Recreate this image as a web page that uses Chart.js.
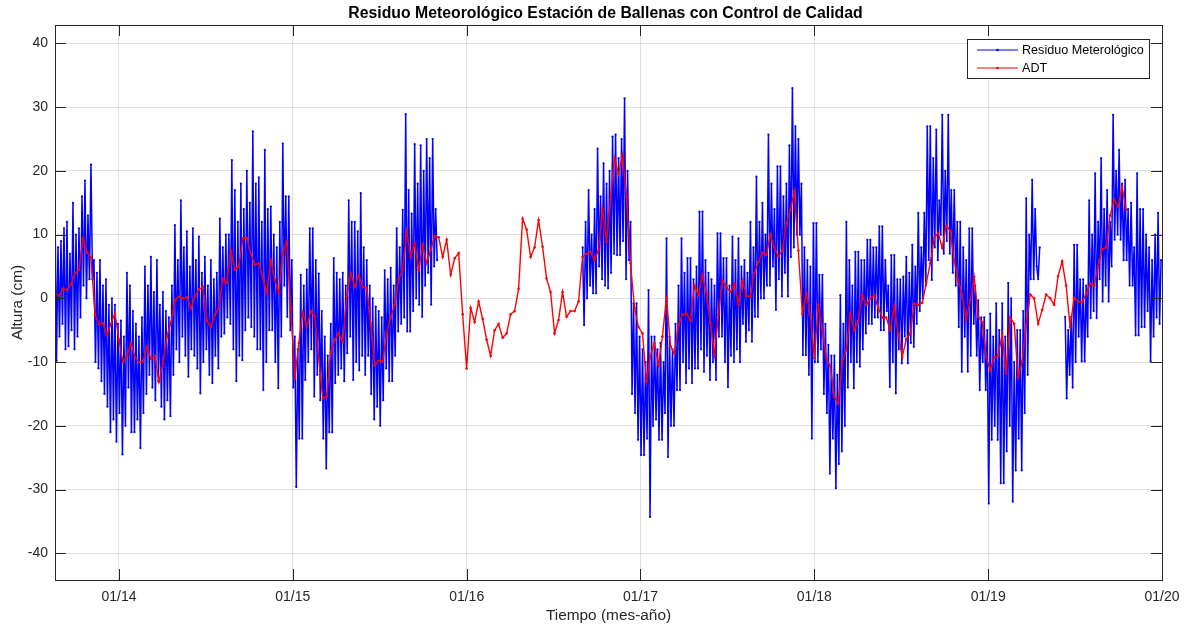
<!DOCTYPE html>
<html>
<head>
<meta charset="utf-8">
<script src="https://cdn.jsdelivr.net/npm/chart.js@4/dist/chart.umd.min.js"></script>
<style>
  html, body { margin: 0; padding: 0; background: #ffffff; }
  canvas { display: block; }
</style>
</head>
<body>
<canvas id="residuoChart" width="1185" height="625"></canvas>
<script>
// ==========================================
// Residuo meteorologico - Ballenas
// ==========================================

const chartTitle = "Residuo Meteorológico Estación de Ballenas con Control de Calidad";
const xTitle = "Tiempo (mes-año)";
const yTitle = "Altura (cm)";
const seriesNames = ["Residuo Meterológico", "ADT"];

// x axis in decimal years, ticks on 1 January
const xMin = 2013.632;
const xMax = 2020.0;
const xTickYears = [2014, 2015, 2016, 2017, 2018, 2019, 2020];
const yMin = -44.2;
const yMax = 42.9;
const yTickValues = [-40, -30, -20, -10, 0, 10, 20, 30, 40];

// residuo (cm), one sample every ~3.15 days, three stretches with data
const residuoStep = 0.008621;
const residuoStart1 = 2013.632;
const residuo1 = [
    14.5, -9.8, 8, -6, 9, -4, 11, -8, 12, -7.5, 7, -5, 15, -8, 10, -6,
    11, -3, 16, 2, 18.5, 0, 13, 3, 21, 3, 6, -10, 4, -11, 6, -13,
    2, -15, 3, -17, -1, -21, 0, -19, -1, -22.5, -4, -18, -3.5, -24.5, -6, -20,
    4, -14, 2, -21, -2, -21, -4, -19, -6, -23.5, -3, -18, 5, -15, 2, -12,
    6.5, -14, 1, -16, 6, -13, -1, -17, 1, -19, -2, -16, -3, -18.5, 2, -12,
    11.5, -8, 6, -10, 15.4, -6, 8, -9, 10.5, -12.3, 5, -8, 11, -9, 6, -11,
    9.7, -14.9, 4, -10, 6.5, -8, 2, -12, 6, -13.3, 3, -9, 4, -11, 12.5, -6,
    8, -5.5, 10, -3, 10, -4, 21.7, -8, 17, -13, 12, -9, 18, -9.7, 14, -5,
    20, -3, 15, -4.5, 26.2, -6, 18, -8, 19, -8, 12, -14.4, 23.3, -10, 14, -5,
    14.4, -5, 10, -10, 8, -14.1, 12, -6, 24.3, 2, 16, -2.9, 16, -5, 6, -14,
    -6, -29.6, -8, -22, 3.7, -22, 2, -12.8, 4.5, -10, 11, -8, 11, -15.4, 6, -12,
    3.9, -16, -2, -22, -6, -26.7, -9, -21, -4, -21, 6.3, -13.3, 4, -12, 3, -11,
    4, -13, 2, -8.6, 15.4, -6, 12, -12.8, 12, -10, 10.5, -11.3, 16.5, -9, 8, -12,
    6, -9, 2, -15, 0, -19, -1.3, -17, -2, -20, -3, -16, 4.4, -11, 3, -13,
    4.8, -13, 2, -9, 11, -5.2, 8, -4, 13.9, -3, 28.9, -5.2, 17, -5.2, 13.3, -2,
    24.2, 0, 18, -1, 24, -2.9, 20, 2, 25, 4, 22, -1, 25, 5, 14, 6
];
const residuoStart2 = 2016.667;
const residuo2 = [
    8, -4.2, 12, 0, 17, 2, 10, 0.8, 14, 0.8, 23.5, 5, 16, 3, 21.2, 2,
    18, 1.6, 20, 4, 25.4, 7, 25.7, 6.8, 22, 6.8, 25, 9, 31.4, 3, 20, 6,
    12, -15, -0.8, -18, -0.8, -22.2, -6, -24.6, -8, -24.6, -10, -22, 1.3, -34.3, -6, -20,
    -6, -19, -8, -22.2, -7, -22.2, -10, -18, 9.4, -24.9, -6, -20, -8, -20, -4, -14.4,
    2, -14.4, 9.4, -10, 4, -13.3, 6.3, -11, 6.3, -13.3, 3, -11, 5, -11, 13.6, -8,
    13.6, -11.5, 6, -9, 4, -12.8, 3, -10, 2, -12.8, 10.2, -6, 10.2, -6, 6.3, -10,
    6.3, -13.9, 2, -9, 9.7, -10, 6, -8, 9.4, -10, 5, -4, 6, -6.8, 4, -5,
    12, -6.8, 8, -2.9, 19.1, -2.9, 12, 0, 15, 0, 10, 2, 25.7, 2, 18, 5,
    14, -1.8, 20.7, 3, 20.7, 0.3, 16, 4, 18, 0.3, 24, 6.5, 33, 8, 27, 10,
    25, 10, 18, -8.9, 8, -8.9, 6, -12, 5, -22, 11.8, -10, 11.8, -10, 3.7, -8,
    3.7, -15, -4, -18, -7.3, -27.5, -9, -22, -9, -29.8, -12, -26, 0.5, -24, -4, -20,
    12, -14, 6, -10, 2, -14.1, 7.3, -10, 7.3, -10.7, 6, -8, 6, -5.5, 9.2, -4,
    9.2, -4, 8, -3, 8, -3, 11.3, -5, 11.3, -5, 6, -2, 2, -13.9, 6.8, -10,
    6.8, -14.9, 3, -8, 3, -10.2, 3.4, -6, 6.5, -10.2, 4, -7, 8.4, -7.6, 5, -4,
    13.4, -2, 8, 0, 13.4, 2, 27, 6, 27, 2.9, 22, 8, 26.5, 6, 15.4, 10,
    28.8, 7, 20, 9, 28.8, 7, 17, 4, 17, 2, 12, -4.5, 12, -11.5, 8, -6,
    6, -11.5, 11, -9, 11, -4, 2, -9, -0.3, -14.4, -3, -10, -3, -14.4, -5, -32.2,
    -2.4, -22.2, -6, -20, -0.8, -22.2, -5, -29, -0.8, -29, -6, -24, 2.4, -20, 0, -31.9,
    -10, -27, -5, -22, -5, -27, -2, -18, 15.7, -12, 10, 3, 18.6, 3, 14, 5,
    3, 8
];
const residuoStart3 = 2019.443;
const residuo3 = [
    -2.9, -15.7, -5, -12, -2.9, -14, 8.4, -10, 8.4, -6, 3, -9.9, 3, -9.9, 2, -6,
    15.4, -3.1, 10, -2, 19.6, -3.1, 12, 3, 22, -0.5, 14, 2, 17, -0.5, 12, 5,
    28.8, 9.2, 20, 10, 23.3, 9.2, 18, 6, 18.6, 6, 14, 2, 15, 2, 8, -5.8,
    19.6, -5.8, 14, -4.5, 14, -4.5, 10, -2, 8, -9.9, 6, -6, 10, -3, 13.4, -4,
    6
];

// ADT (cm), one value every ~8.4 days
const adtStep = 0.02299;
const adtStart = 2013.632;
const adt = [
    0.8, 0.4, 1.5, 1.3, 2.2, 3.9, 4.5, 9.4, 7.2, 6.5, -2.5, -4.1, -3.9, -5.8, -4, -2.3, -6.5, -10, -9, -7,
    -9.2, -10, -9.9, -7.6, -9.5, -9, -13.1, -10.2, -6, -3.8, -0.3, 0.3, 0, 0.2, -1.6, 0.3, 1.4, 1.8, -3.5, -4.5,
    -2.6, -1.5, 3.1, 2.4, 7.5, 4.5, 5, 9.4, 9.5, 7, 5.3, 5.5, 3.2, 0.8, 6, 2.9, 0.8, 7, 9, -1.5,
    -12.6, -7, -2.2, -4.5, -2, -2.8, -9.5, -15.7, -15.4, -8.5, -6.5, -5.5, -6.8, 0.3, 4, 1.8, 3.6, 1.8, 1.6, -4,
    -10.5, -9.8, -9.9, -5.5, -3, -1, 3, 4.5, 10.5, 6.5, 8.6, 4.4, 8.4, 5.5, 7.6, 9.8, 9.6, 6.5, 9.2, 3.7,
    6.3, 7.1, -2.5, -11, -1.5, -3.7, -0.5, -3.2, -6.5, -9, -5, -4, -6.2, -5.5, -2.5, -2, 1.5, 12.5, 10.8, 6.5,
    8, 12.3, 8.1, 3.1, 1, -5.5, -3.4, 1, -2.9, -2, -2, -0.5, 6.5, 7, 7.3, 6, 7.6, 14.1, 8.9, 15.5,
    22, 19.5, 22.5, 16, 5.5, -1.5, -4.5, -5.5, -13, -9, -7, -10.5, -6, 0.3, -7.5, -8.7, -4.2, -2.6, -2.4, -3.5,
    2, 0.5, 3.7, 0.8, -3.9, -8.9, -2.5, 2.8, 1.8, 1, 2.3, -1, 2.8, 0.4, 0.3, 4, 5.7, 7.2, 6.8, 10,
    7.9, 6.6, 7.5, 11.8, 13.9, 16.8, 7.5, -2.4, 0.8, -2.5, -9.4, -1, -5, -9.4, -10.7, -15.5, -16.5, -10, -8.1, -2.4,
    -5, -3.5, 0.5, -1, 0, 0.5, -1.5, -3, -3, -5, -1.2, -5.5, -9.2, -6.4, -5.5, -0.8, -1, -0.7, 2.4, 5.5,
    9.5, 10.3, 7.9, 11.4, 10.6, 6, 2.8, 0.6, -3.4, -0.3, 3.4, -2.9, -3.7, -9.2, -11.3, -9.3, -9, -5.6, -11.8, -3,
    -4, -12.4, -9.9, -4.2, 0.6, 0, -4, -1.8, 0.6, 0, -1, 3.5, 5.8, 2, -4.5, 0.1, -0.5, -0.6, 0.7, 2.3,
    2, 5, 7.7, 8, 13, 15.5, 14.4, 17.5, 13.9
];

const textColor = "#262626";
const gridColor = "rgba(38,38,38,0.14)";
const fontFamily = "'Liberation Sans', Arial, Helvetica, sans-serif";

function toPoints(start, step, values) {
    return values.map((v, i) => ({ x: start + i * step, y: v }));
}

// join the stretches, a null point leaves the gap open
const residuoPoints = [];
[[residuoStart1, residuo1], [residuoStart2, residuo2], [residuoStart3, residuo3]].forEach(([start, vals], k) => {
    if (k > 0) {
        residuoPoints.push({ x: start - residuoStep / 2, y: null });
    }
    residuoPoints.push(...toPoints(start, residuoStep, vals));
});
const adtPoints = toPoints(adtStart, adtStep, adt);

// MATLAB-like frame, inward ticks, title and legend
const decorPlugin = {
    id: "decor",
    afterDatasetsDraw(chart) {
        const { ctx, chartArea: a } = chart;
        const boxW = 182, boxH = 39;
        const bx = a.right - 13 - boxW;
        const by = a.top + 14;
        ctx.save();
        ctx.fillStyle = "#ffffff";
        ctx.fillRect(bx, by, boxW, boxH);
        ctx.strokeStyle = "#262626";
        ctx.lineWidth = 1;
        ctx.strokeRect(bx + 0.5, by + 0.5, boxW, boxH);
        ctx.font = "12.6px " + fontFamily;
        ctx.textBaseline = "middle";
        chart.data.datasets.forEach((ds, i) => {
            const ly = by + 11 + i * 18;
            ctx.strokeStyle = ds.borderColor;
            ctx.lineWidth = 1.2;
            ctx.beginPath();
            ctx.moveTo(bx + 10, ly);
            ctx.lineTo(bx + 51, ly);
            ctx.stroke();
            ctx.fillStyle = ds.borderColor;
            ctx.beginPath();
            ctx.arc(bx + 30.5, ly, 1.3, 0, Math.PI * 2);
            ctx.fill();
            ctx.fillStyle = "#000000";
            ctx.fillText(ds.label, bx + 55, ly + 0.5);
        });
        ctx.restore();
    },
    afterDraw(chart) {
        const { ctx, chartArea: a, scales } = chart;
        ctx.save();
        ctx.strokeStyle = "#262626";
        ctx.lineWidth = 1;
        ctx.beginPath();
        xTickYears.forEach(v => {
            const px = Math.round(scales.x.getPixelForValue(v)) + 0.5;
            ctx.moveTo(px, a.bottom);
            ctx.lineTo(px, a.bottom - 11);
            ctx.moveTo(px, a.top);
            ctx.lineTo(px, a.top + 11);
        });
        yTickValues.forEach(v => {
            const py = Math.round(scales.y.getPixelForValue(v)) + 0.5;
            ctx.moveTo(a.left, py);
            ctx.lineTo(a.left + 11, py);
            ctx.moveTo(a.right, py);
            ctx.lineTo(a.right - 11, py);
        });
        ctx.stroke();
        ctx.strokeRect(Math.round(a.left) + 0.5, Math.round(a.top) + 0.5,
            Math.round(a.right - a.left), Math.round(a.bottom - a.top));

        ctx.fillStyle = "#000000";
        ctx.font = "bold 15.8px " + fontFamily;
        ctx.textAlign = "center";
        ctx.textBaseline = "middle";
        ctx.fillText(chartTitle, (a.left + a.right) / 2 - 3, 13.5);
        ctx.restore();
    }
};

const ctx = document.getElementById("residuoChart").getContext("2d");

const residuoChart = new Chart(ctx, {
    type: "line",
    data: {
        datasets: [{
            label: seriesNames[0],
            data: residuoPoints,
            borderColor: "#0000ff",
            backgroundColor: "#0000ff",
            borderWidth: 1.5,
            pointRadius: 1.1,
            pointBorderWidth: 0,
            tension: 0,
            spanGaps: false,
            order: 1
        }, {
            label: seriesNames[1],
            data: adtPoints,
            borderColor: "#ff0000",
            backgroundColor: "#ff0000",
            borderWidth: 1.4,
            pointRadius: 1.3,
            pointBorderWidth: 0,
            tension: 0,
            order: 0
        }]
    },
    options: {
        responsive: false,
        animation: false,
        events: [],
        layout: {
            padding: { top: 25, right: 23, left: 0, bottom: 0 }
        },
        plugins: {
            legend: { display: false },
            title: { display: false },
            tooltip: { enabled: false }
        },
        scales: {
            x: {
                type: "linear",
                min: xMin,
                max: xMax,
                afterBuildTicks: s => { s.ticks = xTickYears.map(v => ({ value: v })); },
                afterFit: s => {
                    s.height = 45;
                    s.paddingLeft = 0;
                    s.paddingRight = 0;
                },
                border: { display: false },
                grid: { color: gridColor, drawTicks: false },
                ticks: {
                    color: textColor,
                    font: { size: 14, family: fontFamily },
                    padding: 9,
                    maxRotation: 0,
                    autoSkip: false,
                    callback: v => "01/" + String(v).slice(2)
                },
                title: {
                    display: true,
                    text: xTitle,
                    color: textColor,
                    font: { size: 15.4, family: fontFamily },
                    padding: { top: 0, bottom: 0 }
                }
            },
            y: {
                min: yMin,
                max: yMax,
                afterBuildTicks: s => { s.ticks = yTickValues.map(v => ({ value: v })); },
                afterFit: s => { s.width = 55; },
                border: { display: false },
                grid: { color: gridColor, drawTicks: false },
                ticks: {
                    color: textColor,
                    font: { size: 14, family: fontFamily },
                    padding: 7,
                    callback: v => String(v)
                },
                title: {
                    display: true,
                    text: yTitle,
                    color: textColor,
                    font: { size: 15.4, family: fontFamily },
                    padding: { top: 8.8, bottom: 0 }
                }
            }
        }
    },
    plugins: [decorPlugin]
});
</script>
</body>
</html>
